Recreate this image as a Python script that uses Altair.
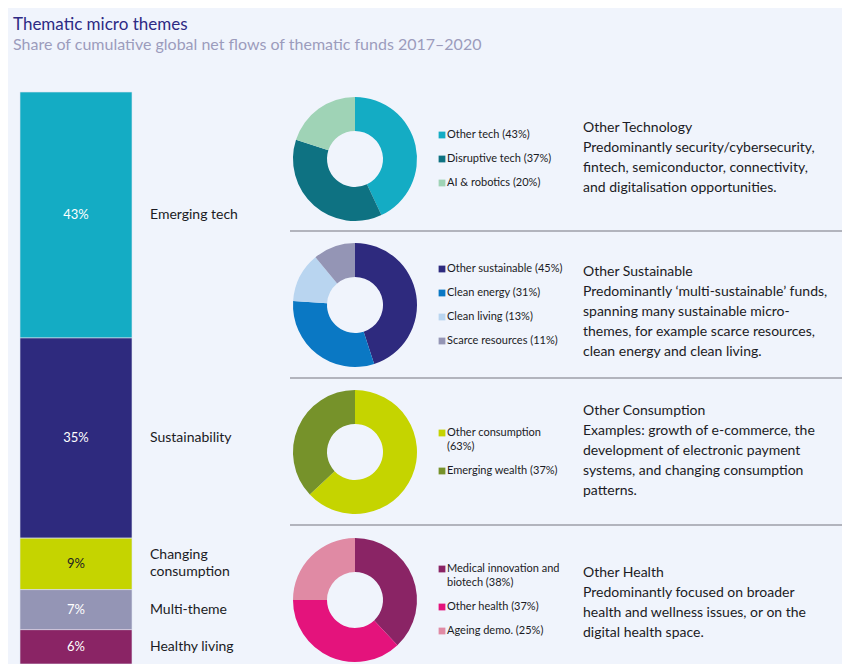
import altair as alt
import pandas as pd

W, H = 834, 656
BG = "#f0f4fc"
FONT = "Lato"
DARK = "#1b1b24"

# ---------------- data ----------------
theme_names = ["Emerging tech", "Sustainability", "Changing\nconsumption", "Multi-theme", "Healthy living"]
theme_shares = [43, 35, 9, 7, 6]
theme_colors = ["#14acc4", "#2e2a7e", "#c5d400", "#9495b5", "#8a2465"]
theme_label_colors = ["#ffffff", "#ffffff", "#1b1b24", "#ffffff", "#ffffff"]

tech_names = ["Other tech", "Disruptive tech", "AI & robotics"]
tech_shares = [43, 37, 20]
tech_colors = ["#14acc4", "#0e7282", "#9fd3b6"]
tech_seps = [" ", " ", " "]

sust_names = ["Other sustainable", "Clean energy", "Clean living", "Scarce resources"]
sust_shares = [45, 31, 13, 11]
sust_colors = ["#2e2a7e", "#0a78c4", "#b9d5f0", "#9495b5"]
sust_seps = [" ", " ", " ", " "]

cons_names = ["Other consumption", "Emerging wealth"]
cons_shares = [63, 37]
cons_colors = ["#c5d400", "#76922a"]
cons_seps = ["\n", " "]

health_names = ["Medical innovation and", "Other health", "Ageing demo."]
health_shares = [38, 37, 25]
health_colors = ["#8a2465", "#e4137c", "#e08aa4"]
health_seps = ["\nbiotech ", " ", " "]

tech_desc = ["Other Technology", "Predominantly security/cybersecurity,",
             "fintech, semiconductor, connectivity,", "and digitalisation opportunities."]
sust_desc = ["Other Sustainable", "Predominantly \u2018multi-sustainable\u2019 funds,",
             "spanning many sustainable micro-", "themes, for example scarce resources,",
             "clean energy and clean living."]
cons_desc = ["Other Consumption", "Examples: growth of e-commerce, the",
             "development of electronic payment", "systems, and changing consumption", "patterns."]
health_desc = ["Other Health", "Predominantly focused on broader",
               "health and wellness issues, or on the", "digital health space."]

title_text = "Thematic micro themes"
subtitle_text = "Share of cumulative global net flows of thematic funds 2017\u20132020"

# ---------------- layout ----------------
donut_cx = 347
donut_cy = [151, 297, 444, 592]
desc_first = [120, 264, 403, 565]
sep_ys = [223, 370, 517]
LABEL_LH = 17

layers = []

title_df = pd.DataFrame({"t": [title_text]})
layers.append(alt.Chart(title_df).mark_text(align="left", baseline="middle", font=FONT,
                                            fontSize=17, color="#2d2a84").encode(
    x=alt.value(5), y=alt.value(17), text="t:N"))
sub_df = pd.DataFrame({"t": [subtitle_text]})
layers.append(alt.Chart(sub_df).mark_text(align="left", baseline="middle", font=FONT,
                                          fontSize=16, color="#9c9cbc").encode(
    x=alt.value(5), y=alt.value(37), text="t:N"))

# ---------------- stacked bar ----------------
bar_df = pd.DataFrame({"theme": theme_names, "share": theme_shares, "color": theme_colors,
                       "tcolor": theme_label_colors, "idx": list(range(len(theme_names)))})
base = alt.Chart(bar_df).transform_stack(
    stack="share", as_=["y0", "y1"], groupby=[],
    sort=[alt.SortField("idx", order="ascending")]
).transform_calculate(
    mid="(datum.y0 + datum.y1) / 2",
    lab="datum.share + '%'",
    multi="indexof(datum.theme, '\\n') >= 0 ? 1 : 0",
)
yscale = alt.Scale(domain=[0, 100], range=[84, 656], nice=False, zero=False)

layers.append(base.mark_rect(stroke="#dfe6f2", strokeWidth=0.6).encode(
    x=alt.value(12), x2=alt.value(124),
    y=alt.Y("y0:Q", scale=yscale, axis=None), y2="y1:Q",
    color=alt.Color("color:N", scale=None)))
layers.append(base.mark_text(font=FONT, fontSize=13, baseline="middle", align="center").encode(
    x=alt.value(68), y=alt.Y("mid:Q", scale=yscale, axis=None), text="lab:N",
    color=alt.Color("tcolor:N", scale=None)))
layers.append(base.transform_filter("datum.multi == 0").mark_text(
    font=FONT, fontSize=14, baseline="middle", align="left", color=DARK).encode(
    x=alt.value(142), y=alt.Y("mid:Q", scale=yscale, axis=None), text="theme:N"))
layers.append(base.transform_filter("datum.multi == 1").mark_text(
    font=FONT, fontSize=14, baseline="middle", align="left", lineBreak="\n",
    lineHeight=LABEL_LH, dy=-LABEL_LH / 2, color=DARK).encode(
    x=alt.value(142), y=alt.Y("mid:Q", scale=yscale, axis=None), text="theme:N"))

# ---------------- separators ----------------
sep_df = pd.DataFrame({"y": sep_ys})
layers.append(alt.Chart(sep_df).mark_rule(color="#74747e", strokeWidth=1).encode(
    x=alt.value(282), x2=alt.value(834), y=alt.Y("y:Q", scale=None)))

# ---------------- donuts, legends, descriptions ----------------
groups = [
    (tech_names, tech_shares, tech_colors, tech_seps, tech_desc),
    (sust_names, sust_shares, sust_colors, sust_seps, sust_desc),
    (cons_names, cons_shares, cons_colors, cons_seps, cons_desc),
    (health_names, health_shares, health_colors, health_seps, health_desc),
]
LEG_LH = 14
LEG_GAP = 24
for g, (names, shares, colors, seps, desc) in enumerate(groups):
    cy = donut_cy[g]
    labels = [f"{n}{s}({v}%)" for n, v, s in zip(names, shares, seps)]
    ys = []
    cur = 0
    for lab in labels:
        ys.append(cur)
        cur += lab.count("\n") * LEG_LH + LEG_GAP
    span = ys[-1] + labels[-1].count("\n") * LEG_LH
    ys = [cy - span / 2 + y for y in ys]
    df = pd.DataFrame({"name": names, "share": shares, "color": colors,
                       "label": labels, "idx": list(range(len(names))), "ly": ys})
    layers.append(alt.Chart(df).mark_arc(radius=62, innerRadius=28).encode(
        theta=alt.Theta("share:Q", stack=True, scale=alt.Scale(domain=[0, 100])),
        color=alt.Color("color:N", scale=None),
        order=alt.Order("idx:Q"),
        x=alt.value(donut_cx), y=alt.value(cy)))
    layers.append(alt.Chart(df).mark_square(size=46, opacity=1, filled=True).encode(
        x=alt.value(434), y=alt.Y("ly:Q", scale=None),
        color=alt.Color("color:N", scale=None)))
    layers.append(alt.Chart(df).mark_text(font=FONT, fontSize=11, align="left", baseline="middle",
                                          lineBreak="\n", lineHeight=LEG_LH, color=DARK).encode(
        x=alt.value(439), y=alt.Y("ly:Q", scale=None), text="label:N"))
    ddf = pd.DataFrame({"t": ["\n".join(desc)]})
    layers.append(alt.Chart(ddf).mark_text(font=FONT, fontSize=14, align="left", baseline="middle",
                                           lineBreak="\n", lineHeight=20, color=DARK).encode(
        x=alt.value(575), y=alt.value(desc_first[g]), text="t:N"))

chart = alt.layer(*layers).properties(
    width=W, height=H, autosize=alt.AutoSizeParams(type="none"), padding=0,
    background=BG
).configure_view(stroke=None)

chart.save("out.html", embed_options={"renderer": "svg", "actions": False})
